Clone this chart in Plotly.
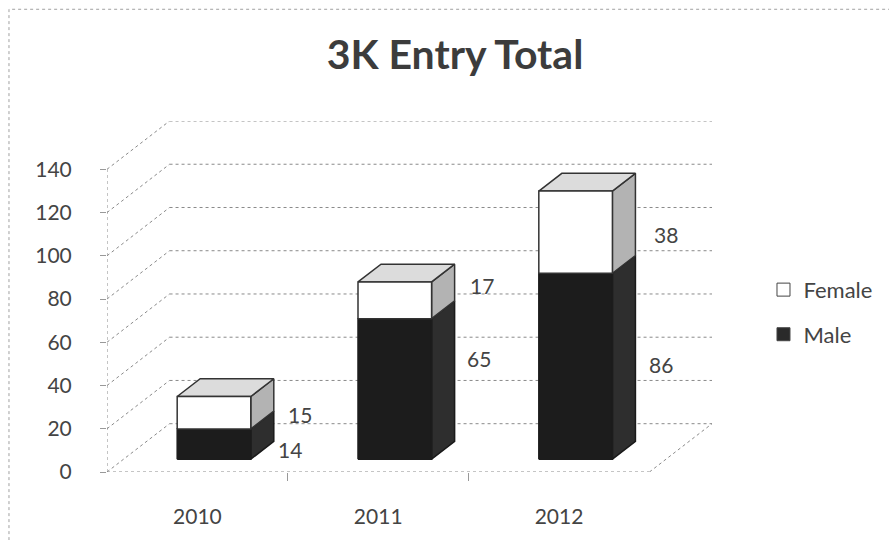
import plotly.graph_objects as go

# ---------------- data ----------------
years = ["2010", "2011", "2012"]
male = [14, 65, 86]
female = [15, 17, 38]
y_ticks = [0, 20, 40, 60, 80, 100, 120, 140]
title_text = "3K Entry Total"

# ------------- projection / style ------------
DX = 0.346      # full depth offset, x units
DY = 22.34      # full depth offset, y units
F0, F1 = 0.265, 0.633   # bar front / back depth fractions
BW = 0.407      # bar width in category units
W, H = 889, 540
ML, MR, MT, MB = 107, 171, 121, 64
PW, PH = W - ML - MR, H - MT - MB
FONT = "Lato, 'Open Sans', sans-serif"
TXT = "#444444"
GRID = "#8a8a8a"

# label nudges (px) : (xshift, yshift) for male / female labels
male_nudge = [(2, -5), (10, 30), (12, 2)]
female_nudge = [(12, -2), (13, 15), (17, -2)]


def px_to_paper_x(px):
    return (px - ML) / PW


def px_to_paper_y(py):
    return (H - MB - py) / PH


def poly(xs_list, ys_list, pts):
    for (x, y) in pts + [pts[0]]:
        xs_list.append(x)
        ys_list.append(y)
    xs_list.append(None)
    ys_list.append(None)


fig = go.Figure()

# ---------- walls / grid ----------
gx, gy = [], []
x_lo, x_hi = -0.5, len(years) - 0.5
for v in y_ticks:
    gx += [x_lo + DX, x_hi + DX, None]
    gy += [v + DY, v + DY, None]
for v in y_ticks:
    gx += [x_lo, x_lo + DX, None]
    gy += [v, v + DY, None]
gx += [x_lo, x_lo, None]
gy += [0, y_ticks[-1], None]
gx += [x_lo, x_hi, None]
gy += [0, 0, None]
gx += [x_hi, x_hi + DX, None]
gy += [0, DY, None]
fig.add_trace(go.Scatter(x=gx, y=gy, mode="lines", showlegend=False, hoverinfo="skip",
                         line=dict(color=GRID, width=1, dash="dot")))

# ---------- bars ----------
faces = {k: ([], []) for k in ["m_side", "f_side", "top", "m_front", "f_front"]}
for i in range(len(years)):
    xl, xr = i - BW / 2, i + BW / 2
    segs = [("m", 0, male[i]), ("f", male[i], male[i] + female[i])]
    for key, b, t in segs:
        front = [(xl + F0 * DX, b + F0 * DY), (xr + F0 * DX, b + F0 * DY),
                 (xr + F0 * DX, t + F0 * DY), (xl + F0 * DX, t + F0 * DY)]
        side = [(xr + F0 * DX, b + F0 * DY), (xr + F1 * DX, b + F1 * DY),
                (xr + F1 * DX, t + F1 * DY), (xr + F0 * DX, t + F0 * DY)]
        poly(*faces[key + "_side"], side)
        poly(*faces[key + "_front"], front)
    t = male[i] + female[i]
    top = [(xl + F0 * DX, t + F0 * DY), (xr + F0 * DX, t + F0 * DY),
           (xr + F1 * DX, t + F1 * DY), (xl + F1 * DX, t + F1 * DY)]
    poly(*faces["top"], top)

styles = {
    "m_side": ("#2e2e2e", "#1a1a1a"),
    "f_side": ("#b3b3b3", "#333333"),
    "top": ("#dcdcdc", "#333333"),
    "m_front": ("#1c1c1c", "#1c1c1c"),
    "f_front": ("#ffffff", "#333333"),
}
for key in ["m_side", "f_side", "top", "m_front", "f_front"]:
    xs, ys = faces[key]
    fc, lc = styles[key]
    fig.add_trace(go.Scatter(x=xs, y=ys, mode="lines", fill="toself", fillcolor=fc,
                             line=dict(color=lc, width=1.5), showlegend=False,
                             hoverinfo="skip"))

# ---------- legend entries ----------
fig.add_trace(go.Scatter(x=[None], y=[None], mode="markers", name="Female",
                         legendgroup="f",
                         marker=dict(symbol="square", size=13, color="#ffffff",
                                     line=dict(color="#444444", width=1))))
fig.add_trace(go.Scatter(x=[None], y=[None], mode="markers", name="Male",
                         legendgroup="m",
                         marker=dict(symbol="square", size=13, color="#2a2a2a",
                                     line=dict(color="#444444", width=1))))

# ---------- data labels ----------
ann = []
for i in range(len(years)):
    xr_back = i + BW / 2 + F1 * DX
    for val, b, (nx, ny) in [(male[i], 0, male_nudge[i]),
                            (female[i], male[i], female_nudge[i])]:
        ann.append(dict(x=xr_back, y=b + val / 2 + F0 * DY, text=str(val),
                        showarrow=False, xanchor="left", yanchor="middle",
                        xshift=nx, yshift=ny,
                        font=dict(family=FONT, size=21, color=TXT)))

fig.update_layout(
    width=W, height=H,
    margin=dict(l=ML, r=MR, t=MT, b=MB),
    paper_bgcolor="white", plot_bgcolor="white",
    title=dict(text="<b>" + title_text + "</b>", x=455 / W, xanchor="center",
               xref="container", y=1 - 55 / H, yanchor="middle", yref="container",
               font=dict(family=FONT, size=41, color="#3c3c3c")),
    xaxis=dict(range=[x_lo, x_hi + DX], tickvals=list(range(len(years))), ticktext=years,
               showgrid=False, zeroline=False, showline=False, ticks="",
               ticklabelstandoff=30,
               tickfont=dict(family=FONT, size=21, color=TXT),
               minor=dict(tickvals=[0.5, 1.5], ticks="outside", ticklen=8,
                          tickcolor="#999999", tickwidth=1)),
    yaxis=dict(range=[0, y_ticks[-1] + DY], tickvals=y_ticks,
               showgrid=False, zeroline=False, showline=False,
               ticks="outside", ticklen=6, tickcolor="#999999",
               ticklabelstandoff=24,
               tickfont=dict(family=FONT, size=21, color=TXT)),
    legend=dict(x=px_to_paper_x(770), xanchor="left",
                y=px_to_paper_y(314.5), yanchor="middle",
                font=dict(family=FONT, size=22, color=TXT), tracegroupgap=13,
                bgcolor="rgba(0,0,0,0)"),
    annotations=ann,
    shapes=[dict(type="rect", xref="paper", yref="paper",
                 x0=px_to_paper_x(8), x1=px_to_paper_x(905),
                 y0=px_to_paper_y(560), y1=px_to_paper_y(8),
                 line=dict(color="#a0a0a0", width=1, dash="dot"))],
)

# remove the browser's default 8px body margin so the figure sits at the page origin
fig.write_html("out.html", config={"displayModeBar": False},
               post_script="document.body.style.margin='0';")
